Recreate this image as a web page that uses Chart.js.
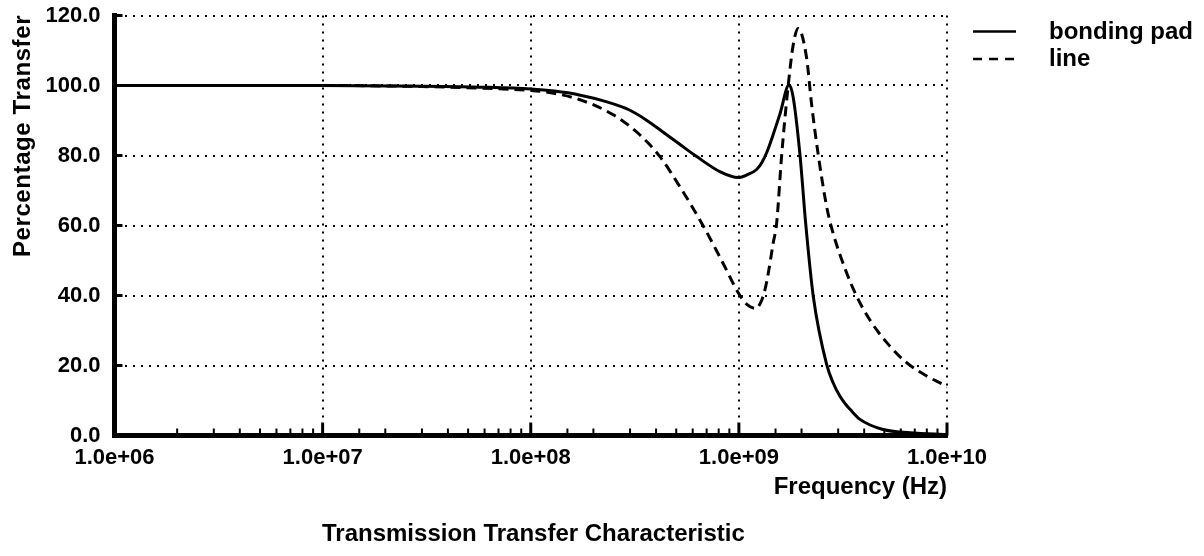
<!DOCTYPE html>
<html>
<head>
<meta charset="utf-8">
<script src="https://cdn.jsdelivr.net/npm/chart.js@4/dist/chart.umd.min.js"></script>
<style>
  html, body { margin: 0; padding: 0; background: #ffffff; }
  #wrap { position: relative; width: 1204px; height: 556px; }
</style>
</head>
<body>
<div id="wrap"><canvas id="c" width="1204" height="556"></canvas></div>
<script>
// ---- data ----
const chartTitle = "Transmission Transfer Characteristic";
const xTitle = "Frequency (Hz)";
const yTitle = "Percentage Transfer";
const seriesNames = ["bonding pad", "line"];

const yTicks = [0, 20, 40, 60, 80, 100, 120];
const xDecades = [1e6, 1e7, 1e8, 1e9, 1e10];
const xTickLabels = ["1.0e+06", "1.0e+07", "1.0e+08", "1.0e+09", "1.0e+10"];

const padFreq = [1e6, 1e7, 3e7, 6e7, 1e8, 1.3e8, 1.71e8, 2.3e8, 2.98e8, 3.6e8, 4.3e8, 5.2e8, 6.27e8, 8.1e8, 9.93e8,
  1.105e9, 1.217e9, 1.29e9, 1.364e9, 1.458e9, 1.574e9, 1.745e9, 1.825e9, 1.965e9, 2.1e9, 2.277e9, 2.64e9, 2.84e9,
  3.06e9, 3.25e9, 3.42e9, 3.82e9, 4.93e9, 6.64e9, 1e10];
const padPct = [100, 100, 99.8, 99.5, 99.0, 98.4, 97.3, 95.4, 93.0, 90.1, 86.8, 83.2, 79.7, 75.4, 73.7,
  74.6, 76.0, 78.0, 81.0, 85.8, 91.8, 100.2, 96.5, 80.3, 59.8, 39.8, 20.3, 15.0,
  11.2, 9.0, 7.5, 4.6, 1.7, 0.8, 0.3];

const lineFreq = [1e6, 1e7, 3e7, 6e7, 1e8, 1.23e8, 1.71e8, 2.48e8, 3.33e8, 4.16e8, 5.19e8, 6.71e8, 8.38e8, 1e9,
  1.1e9, 1.207e9, 1.28e9, 1.334e9, 1.384e9, 1.462e9, 1.518e9, 1.605e9, 1.726e9, 1.824e9, 1.928e9, 2.115e9, 2.236e9,
  2.405e9, 2.639e9, 2.83e9, 3.293e9, 3.679e9, 4.262e9, 5.127e9, 6.397e9, 7.98e9, 9.56e9, 1e10];
const linePct = [100, 100, 99.7, 99.2, 98.6, 98.0, 96.0, 91.7, 86.0, 79.8, 71.2, 60.1, 49.3, 40.5,
  37.3, 36.3, 38.3, 41.6, 46.3, 55.0, 60.5, 80.0, 100.0, 111.6, 116.3, 107.9, 94.6,
  80.3, 65.5, 58.0, 46.5, 39.8, 33.0, 26.6, 20.8, 17.0, 14.6, 13.9];

// ---- helpers ----
const FONT = "'Liberation Sans', Arial, Helvetica, sans-serif";
const toPoints = (xs, ys) => xs.map((x, i) => ({ x: x, y: ys[i] }));
const isDecade = v => Math.abs(Math.log10(v) - Math.round(Math.log10(v))) < 1e-6;

const decorPlugin = {
  id: 'decor',
  afterDraw(chart) {
    const ctx = chart.ctx;
    const xs = chart.scales.x, ys = chart.scales.y;
    const area = chart.chartArea;
    ctx.save();
    ctx.strokeStyle = '#000';
    ctx.lineCap = 'butt';
    // x tick marks (inside, pointing up)
    xs.ticks.forEach(t => {
      const px = xs.getPixelForValue(t.value);
      const major = isDecade(t.value);
      ctx.lineWidth = major ? 3 : 2;
      ctx.beginPath();
      ctx.moveTo(px, area.bottom);
      ctx.lineTo(px, area.bottom - (major ? 13 : 7));
      ctx.stroke();
    });
    // y tick marks (inside, pointing right)
    yTicks.forEach(v => {
      const py = ys.getPixelForValue(v);
      ctx.lineWidth = 3;
      ctx.beginPath();
      ctx.moveTo(area.left, py);
      ctx.lineTo(area.left + 8, py);
      ctx.stroke();
    });

    ctx.fillStyle = '#000';
    // y axis title
    ctx.save();
    ctx.font = 'bold 24px ' + FONT;
    ctx.letterSpacing = '0.6px';
    ctx.translate(30, 136);
    ctx.rotate(-Math.PI / 2);
    ctx.textAlign = 'center';
    ctx.textBaseline = 'alphabetic';
    ctx.fillText(yTitle, 0, 0);
    ctx.restore();

    // x axis title (right-aligned with the plot)
    ctx.save();
    ctx.font = 'bold 24px ' + FONT;
    ctx.textAlign = 'right';
    ctx.textBaseline = 'alphabetic';
    ctx.fillText(xTitle, area.right, 494);
    ctx.restore();

    // chart title
    ctx.save();
    ctx.font = 'bold 24px ' + FONT;
    ctx.textAlign = 'left';
    ctx.textBaseline = 'alphabetic';
    ctx.fillText(chartTitle, 322, 541);
    ctx.restore();

    // legend
    const ds = chart.data.datasets;
    ds.forEach((d, i) => {
      const ly = 31.5 + i * 27.5;
      ctx.save();
      ctx.lineWidth = 2.5;
      ctx.setLineDash(i === 0 ? [] : [9, 7]);
      ctx.beginPath();
      ctx.moveTo(973, ly);
      ctx.lineTo(1016, ly);
      ctx.stroke();
      ctx.restore();
      ctx.save();
      ctx.font = 'bold 24px ' + FONT;
      ctx.textAlign = 'left';
      ctx.textBaseline = 'alphabetic';
      ctx.fillText(d.label, 1049, 38.5 + i * 27);
      ctx.restore();
    });
    ctx.restore();
  }
};

new Chart(document.getElementById('c'), {
  type: 'line',
  data: {
    datasets: [
      {
        label: seriesNames[0],
        data: toPoints(padFreq, padPct),
        borderColor: '#000',
        borderWidth: 3,
        pointRadius: 0,
        fill: false,
        cubicInterpolationMode: 'monotone'
      },
      {
        label: seriesNames[1],
        data: toPoints(lineFreq, linePct),
        borderColor: '#000',
        borderWidth: 3,
        borderDash: [10, 6],
        pointRadius: 0,
        fill: false,
        cubicInterpolationMode: 'monotone'
      }
    ]
  },
  options: {
    responsive: false,
    animation: false,
    events: [],
    layout: { padding: { top: 15.5, right: 257, left: 0, bottom: 0 } },
    plugins: { legend: { display: false }, title: { display: false }, tooltip: { enabled: false } },
    scales: {
      x: {
        type: 'logarithmic',
        position: 'bottom',
        min: xDecades[0],
        max: xDecades[xDecades.length - 1],
        afterFit(scale) { scale.height = 120.5; scale.paddingLeft = 0; scale.paddingRight = 0; },
        border: { display: true, color: '#000', width: 5, dash: [2, 6] },
        grid: {
          drawTicks: false,
          lineWidth: 2,
          color: c => (c.tick && isDecade(c.tick.value)) ? '#000' : 'rgba(0,0,0,0)'
        },
        ticks: {
          autoSkip: false,
          maxRotation: 0,
          padding: 11,
          color: '#000',
          font: { family: FONT, size: 22, weight: 'bold', lineHeight: 1 },
          callback: (v) => {
            const i = xDecades.findIndex(d => Math.abs(d - v) / d < 1e-6);
            return i >= 0 ? xTickLabels[i] : '';
          }
        }
      },
      y: {
        type: 'linear',
        position: 'left',
        min: yTicks[0],
        max: yTicks[yTicks.length - 1],
        afterFit(scale) { scale.width = 114.5; scale.paddingTop = 0; scale.paddingBottom = 0; },
        afterBuildTicks(scale) { scale.ticks = yTicks.map(v => ({ value: v })); },
        border: { display: true, color: '#000', width: 5, dash: [2, 6] },
        grid: { drawTicks: false, lineWidth: 2, color: '#000' },
        ticks: {
          padding: 14,
          color: '#000',
          font: { family: FONT, size: 22, weight: 'bold' },
          callback: v => Number(v).toFixed(1)
        }
      }
    }
  },
  plugins: [decorPlugin]
});
</script>
</body>
</html>
